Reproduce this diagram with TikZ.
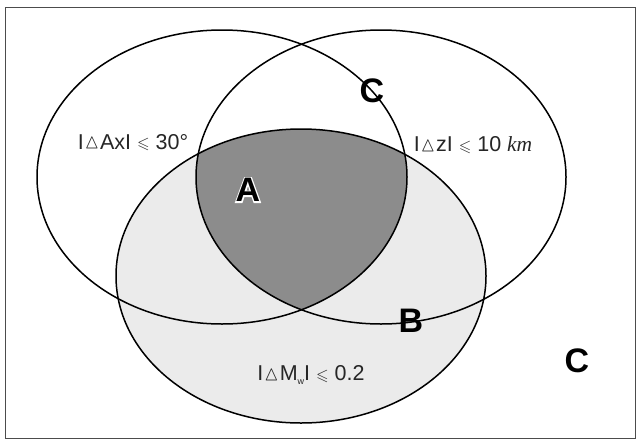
\documentclass[tikz,border=0pt]{standalone}
\usepackage{amssymb}
\usepackage{graphicx}
\usepackage{fontspec}
\setmainfont{Liberation Sans}
\newfontfamily\kmfont{Liberation Serif}
\newcommand{\tri}{\kern0.8pt\raisebox{0.3pt}{\scalebox{0.95}{$\vartriangle$}}\kern0.8pt}
\newcommand{\lesl}{\raisebox{0.5pt}{\scalebox{0.75}{$\leqslant$}}}
\newcommand{\halotext}[1]{\makebox[0pt][l]{\special{pdf:literal direct 1 Tr 2.6 w 1 G}#1\special{pdf:literal direct 0 Tr 0 G}}#1}
\begin{document}
\begin{tikzpicture}[x=1pt,y=-1pt,
  ring/.style={draw=black, line width=1.5pt},
  lab/.style={font=\fontsize{21.5}{21.5}\selectfont, text=black!85, inner sep=0pt, anchor=base},
  big/.style={font=\fontsize{34}{34}\selectfont\bfseries, text=black, inner sep=0pt}]
\useasboundingbox (0,0) rectangle (636,439);
\draw[black!70, line width=1pt] (5.5,7) rectangle (635,438);
% light fill of the bottom ellipse
\fill[black!8] (301,276) ellipse [x radius=185, y radius=147];
% dark triple intersection
\begin{scope}
  \clip (222,177) ellipse [x radius=185, y radius=147];
  \clip (381,177) ellipse [x radius=185, y radius=147];
  \fill[black!45] (301,276) ellipse [x radius=185, y radius=147];
\end{scope}
% outlines
\draw[ring] (222,177) ellipse [x radius=185, y radius=147];
\draw[ring] (381,177) ellipse [x radius=185, y radius=147];
\draw[ring] (301,276) ellipse [x radius=185, y radius=147];
% labels
\node[lab] (az) at (133,149) {I\tri AxI \lesl\ 30°};
\node[lab] (dz) at (473,151.5) {I\tri zI \lesl\ 10 {\kmfont\itshape km}};
\node[lab] (mw) at (311,380.5) {I\tri M\raisebox{-4pt}{\fontsize{9}{9}\selectfont w}I \lesl\ 0.2};
% region letters
\node[big] (A) at (248,190) {\halotext{A}};
\node[big] (B) at (411,321) {B};
\node[big] (C1) at (372,91) {C};
\node[big] (C2) at (577,361) {C};
\end{tikzpicture}
\end{document}
